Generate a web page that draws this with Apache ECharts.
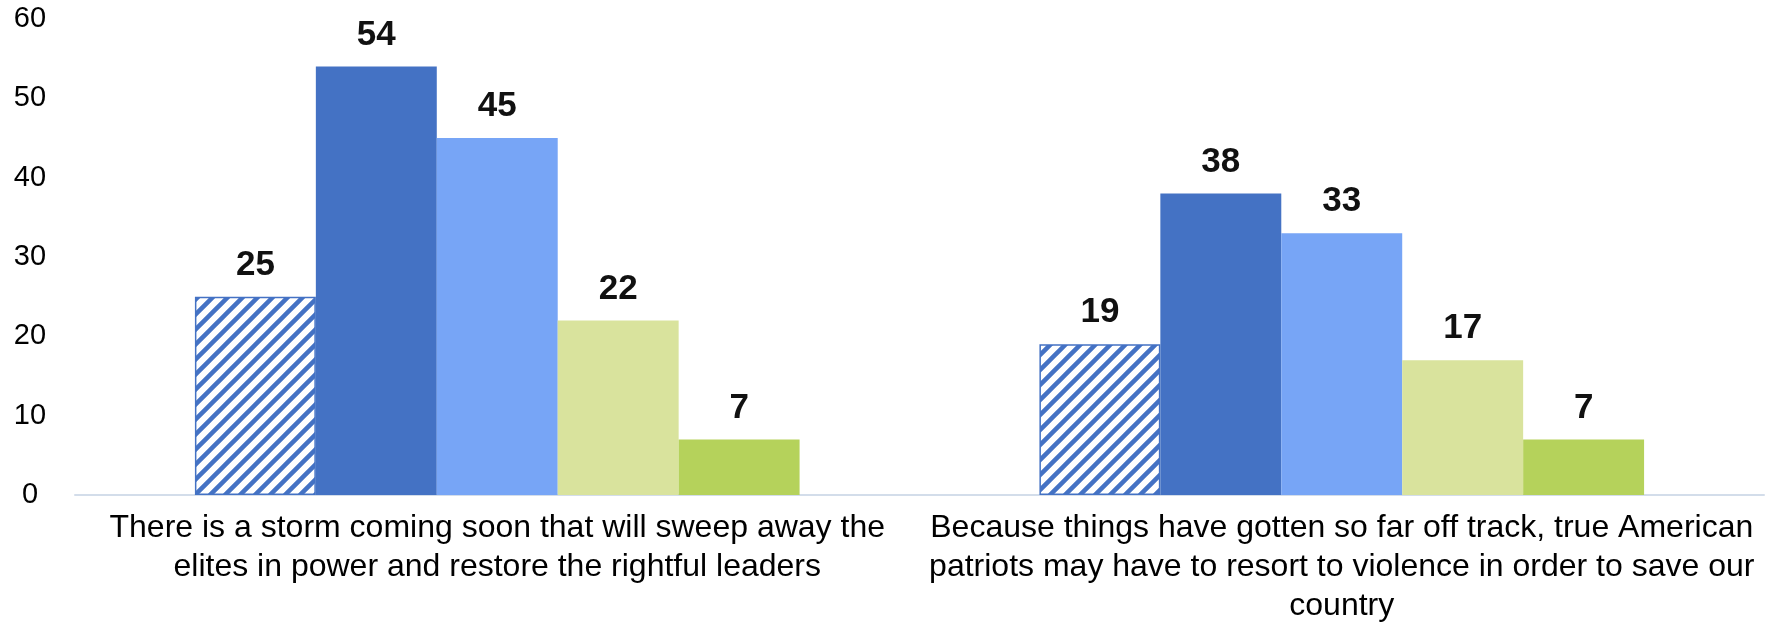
<!DOCTYPE html>
<html>
<head>
<meta charset="utf-8">
<script src="https://cdn.jsdelivr.net/npm/echarts@6/dist/echarts.min.js"></script>
<style>
  html, body { margin: 0; padding: 0; background: #fff; }
  #chart { width: 1771px; height: 626px; }
</style>
</head>
<body>
<div id="chart"></div>
<script>
const categories = [
  'There is a storm coming soon that will sweep away the\nelites in power and restore the rightful leaders',
  'Because things have gotten so far off track, true American\npatriots may have to resort to violence in order to save our\ncountry'
]
const series1 = [25, 19]
const series2 = [54, 38]
const series3 = [45, 33]
const series4 = [22, 17]
const series5 = [7, 7]
const seriesNames = ['Series 1', 'Series 2', 'Series 3', 'Series 4', 'Series 5']

// diagonal hatch tile for the first series
function hatchPattern(color) {
  const s = 15
  const c = document.createElement('canvas')
  c.width = s
  c.height = s
  const ctx = c.getContext('2d')
  ctx.fillStyle = '#fff'
  ctx.fillRect(0, 0, s, s)
  ctx.strokeStyle = color
  ctx.lineWidth = 4.5
  ctx.beginPath()
  ctx.moveTo(0, s); ctx.lineTo(s, 0)
  ctx.moveTo(-s / 2, s / 2); ctx.lineTo(s / 2, -s / 2)
  ctx.moveTo(s / 2, s * 1.5); ctx.lineTo(s * 1.5, s / 2)
  ctx.stroke()
  return c
}

const font = "'Liberation Sans', Arial, sans-serif"
const chart = echarts.init(document.getElementById('chart'))

const values = [series1, series2, series3, series4, series5]
const styles = [
  { color: { image: hatchPattern('#4472C4'), repeat: 'repeat' }, borderColor: '#4472C4', borderWidth: 1.5 },
  { color: '#4472C4' },
  { color: '#77A5F6' },
  { color: '#D9E39D' },
  { color: '#B5D25B' }
]

const series = values.map((v, i) => {
  return {
    name: seriesNames[i],
    type: 'bar',
    data: v,
    barGap: '0%',
    barCategoryGap: '28.4%',
    itemStyle: styles[i],
    label: {
      show: true,
      position: 'top',
      distance: 14,
      color: '#111',
      fontFamily: font,
      fontWeight: 'bold',
      fontSize: 35
    }
  }
})

chart.setOption({
  animation: false,
  grid: {
    left: 75,
    right: 7,
    top: 19,
    bottom: 128
  },
  xAxis: {
    type: 'category',
    data: categories,
    axisTick: { show: false },
    axisLine: {
      lineStyle: { color: '#D3DDEA', width: 2 }
    },
    axisLabel: {
      interval: 0,
      margin: 14,
      color: '#000',
      fontFamily: font,
      fontSize: 32,
      lineHeight: 39
    }
  },
  yAxis: {
    type: 'value',
    min: 0,
    max: 60,
    interval: 10,
    axisLine: { show: false },
    axisTick: { show: false },
    splitLine: { show: false },
    axisLabel: {
      align: 'center',
      margin: 45,
      color: '#000',
      fontFamily: font,
      fontSize: 29
    }
  },
  series: series
})
</script>
</body>
</html>
